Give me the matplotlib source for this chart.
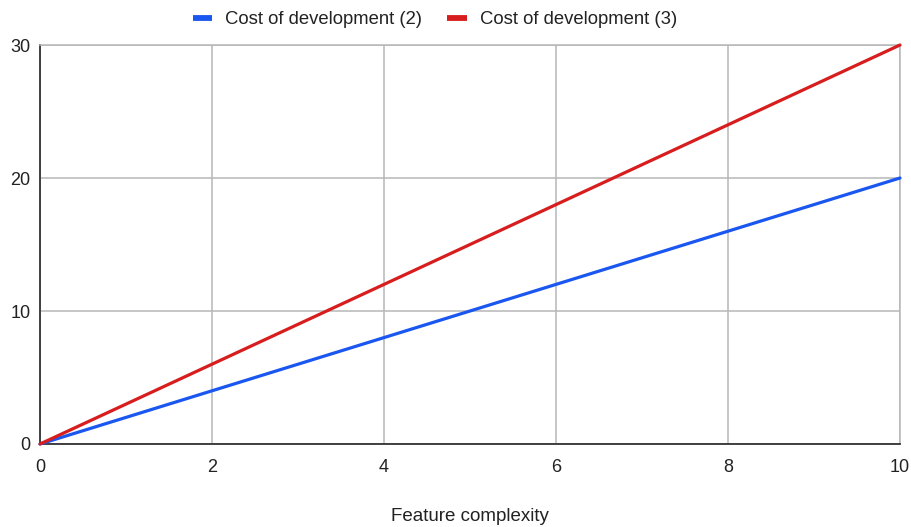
import matplotlib
matplotlib.use("Agg")
import matplotlib.pyplot as plt

# Cost of development versus feature complexity
complexity = [0, 1, 2, 3, 4, 5, 6, 7, 8, 9, 10]
cost_2 = [0, 2, 4, 6, 8, 10, 12, 14, 16, 18, 20]
cost_3 = [0, 3, 6, 9, 12, 15, 18, 21, 24, 27, 30]
series_names = ["Cost of development (2)", "Cost of development (3)"]
x_ticks = [0, 2, 4, 6, 8, 10]
y_ticks = [0, 10, 20, 30]

plt.rcParams["font.family"] = ["Liberation Sans", "DejaVu Sans"]

fig = plt.figure(figsize=(9.12, 5.27), dpi=100)
ax = fig.add_axes([40 / 912, 83 / 527, 860 / 912, 399 / 527])

blue = "#1a56f0"
red = "#d71d1d"
ax.plot(complexity, cost_2, color=blue, lw=2.3, label=series_names[0],
        solid_capstyle="round", zorder=3, clip_on=False)
ax.plot(complexity, cost_3, color=red, lw=2.3, label=series_names[1],
        solid_capstyle="round", zorder=3, clip_on=False)

ax.set_xlim(0, 10)
ax.set_ylim(0, 30)
ax.set_xticks(x_ticks)
ax.set_yticks(y_ticks)
ax.grid(True, color="#b7b7b7", lw=1.1)
ax.set_axisbelow(True)

for side in ("top", "right"):
    ax.spines[side].set_color("#b7b7b7")
    ax.spines[side].set_linewidth(1.1)
for side in ("left", "bottom"):
    ax.spines[side].set_color("#333333")
    ax.spines[side].set_linewidth(1.3)

ax.tick_params(axis="both", length=0, labelsize=13, colors="#222222")
ax.tick_params(axis="x", pad=10.5)
ax.tick_params(axis="y", pad=7)

ax.set_xlabel("Feature complexity", fontsize=13.5, color="#222222", labelpad=23.5)

leg = fig.legend(loc="center", bbox_to_anchor=(435 / 912, 1 - 19.5 / 527), ncol=2,
                 frameon=False, fontsize=13.3, handlelength=1.05,
                 handletextpad=0.7, columnspacing=1.35, borderaxespad=0,
                 borderpad=0)
for line in leg.get_lines():
    line.set_linewidth(4.2)
    line.set_solid_capstyle("butt")
for txt in leg.get_texts():
    txt.set_color("#222222")

fig.savefig("out.png", dpi=100, facecolor="white")
